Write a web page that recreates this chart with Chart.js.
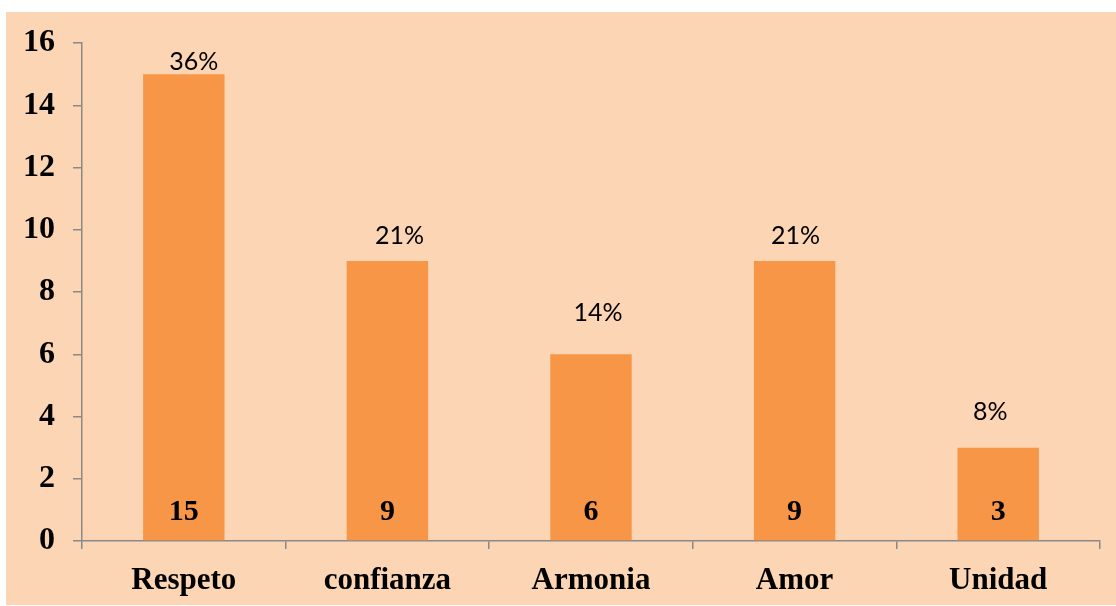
<!DOCTYPE html>
<html>
<head>
<meta charset="utf-8">
<script src="https://cdn.jsdelivr.net/npm/chart.js@4"></script>
<style>
  html, body { margin: 0; padding: 0; background: #ffffff; }
  #wrap { width: 1116px; height: 606px; position: relative; }
</style>
</head>
<body>
<div id="wrap"><canvas id="valoresChart" width="1116" height="606"></canvas></div>
<script>
// chart data
const categories = ['Respeto', 'confianza', 'Armonia', 'Amor', 'Unidad'];
const counts = [15, 9, 6, 9, 3];
const percentLabels = ['36%', '21%', '14%', '21%', '8%'];
const yTicks = [0, 2, 4, 6, 8, 10, 12, 14, 16];

// percent labels sit a bit irregularly above the bars (hand placed in the original)
const pctShiftX = [10, 12, 7, 1, -8];
const pctShiftY = [12, 25, 41, 25, 36];

const peach = '#FCD5B4';
const barColor = '#F79646';
const axisGray = '#898989';

const backgroundPlugin = {
    id: 'peachBackground',
    beforeDraw(chart) {
        const ctx = chart.ctx;
        ctx.save();
        ctx.fillStyle = peach;
        ctx.fillRect(6, 12, chart.width - 6, chart.height - 13);
        ctx.restore();
    }
};

const labelsPlugin = {
    id: 'barLabels',
    afterDatasetsDraw(chart) {
        const ctx = chart.ctx;
        const meta = chart.getDatasetMeta(0);
        ctx.save();
        meta.data.forEach((bar, i) => {
            // value inside the bar, near the base
            ctx.font = 'bold 30px "Liberation Serif", "Times New Roman", serif';
            ctx.fillStyle = '#000000';
            ctx.textAlign = 'center';
            ctx.textBaseline = 'middle';
            ctx.fillText(String(counts[i]), bar.x, bar.base - 28);

            // percentage above the bar
            ctx.font = '25px Lato, "Open Sans", sans-serif';
            ctx.fillText(percentLabels[i], bar.x + pctShiftX[i], bar.y - pctShiftY[i]);
        });
        ctx.restore();
    }
};

const ctx = document.getElementById('valoresChart').getContext('2d');
new Chart(ctx, {
    type: 'bar',
    data: {
        labels: categories,
        datasets: [{
            data: counts,
            backgroundColor: barColor,
            borderWidth: 0,
            categoryPercentage: 1.0,
            barPercentage: 0.4
        }]
    },
    options: {
        responsive: false,
        animation: false,
        devicePixelRatio: 1,
        layout: {
            padding: { left: 0, right: 16, top: 43, bottom: 0 }
        },
        plugins: {
            legend: { display: false },
            tooltip: { enabled: false }
        },
        scales: {
            x: {
                grid: {
                    display: true,
                    drawOnChartArea: false,
                    drawTicks: true,
                    tickLength: 8,
                    color: axisGray,
                    lineWidth: 1.5
                },
                border: { display: true, color: axisGray, width: 1.5 },
                ticks: {
                    color: '#000000',
                    padding: 13,
                    font: { family: '"Liberation Serif", "Times New Roman", serif', size: 31, weight: 'bold' }
                },
                afterFit(scale) { scale.height = 65; }
            },
            y: {
                min: 0,
                max: 16,
                afterBuildTicks(scale) {
                    scale.ticks = yTicks.map(v => ({ value: v }));
                },
                grid: {
                    display: true,
                    drawOnChartArea: false,
                    drawTicks: true,
                    tickLength: 9,
                    color: axisGray,
                    lineWidth: 1.5
                },
                border: { display: true, color: axisGray, width: 1.5 },
                ticks: {
                    color: '#000000',
                    padding: 18,
                    font: { family: '"Liberation Serif", "Times New Roman", serif', size: 32, weight: 'bold' }
                },
                afterFit(scale) { scale.width = 82; }
            }
        }
    },
    plugins: [backgroundPlugin, labelsPlugin]
});
</script>
</body>
</html>
